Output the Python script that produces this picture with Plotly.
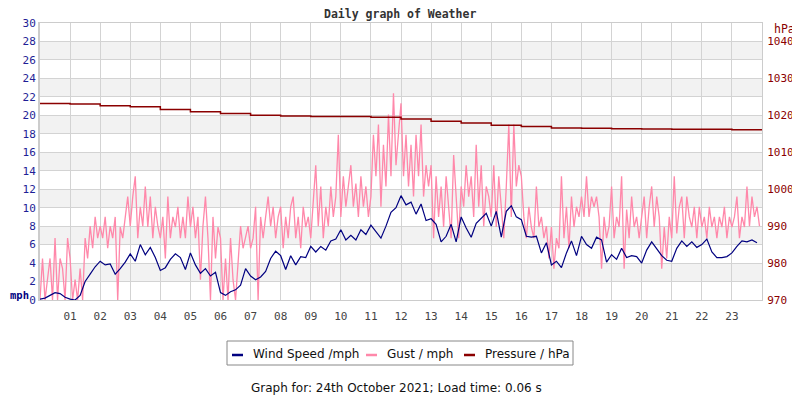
import numpy as np
import plotly.graph_objects as go

# wind speed, mph, every 10 minutes from 00:00
wind_speed = [
    0.1, 0.2, 0.5, 0.8, 0.7, 0.3,
    0.1, 0.0, 0.5, 2.0, 2.8, 3.6,
    4.2, 3.8, 3.9, 2.8, 3.4, 4.1,
    5.0, 4.2, 6.0, 4.9, 5.7, 4.6,
    3.2, 3.5, 4.4, 5.0, 4.6, 3.3,
    5.1, 3.8, 2.9, 3.4, 2.6, 3.0,
    0.8, 0.5, 0.9, 1.1, 1.6, 3.4,
    2.6, 2.2, 2.5, 3.1, 4.5, 5.3,
    4.8, 3.3, 4.8, 3.8, 4.7, 4.6,
    5.8, 5.2, 5.8, 5.4, 6.4, 6.6,
    7.6, 6.5, 7.0, 6.5, 7.6, 7.1,
    8.1, 7.4, 6.7, 8.0, 9.5, 10.0,
    11.3, 10.3, 10.6, 9.3, 10.4, 8.6,
    8.8, 8.2, 6.3, 6.9, 8.2, 6.3,
    9.0, 7.8, 6.8, 8.3, 8.8, 9.4,
    8.0, 9.6, 6.8, 9.6, 10.2, 9.0,
    8.7, 6.9, 6.8, 6.9, 5.1, 6.2,
    3.8, 4.2, 3.5, 5.1, 6.4, 4.8,
    6.9, 6.0, 5.6, 6.8, 6.5, 4.1,
    4.9, 4.4, 5.6, 4.6, 4.8, 4.7,
    4.0, 5.4, 6.3, 5.6, 4.8, 4.3,
    4.2, 5.6, 6.4, 5.8, 6.3, 5.7,
    6.0, 6.6, 5.2, 4.6, 4.6, 4.7,
    5.1, 5.8, 6.4, 6.3, 6.5, 6.2,
]

# gust, mph, every 5 minutes from 00:00
gust = [
    0, 4.5, 0, 2.2, 4.5, 0, 6.7, 0, 4.5, 3.4, 0, 6.7,
    4.5, 0, 2.2, 0, 3.4, 0, 6.7, 4.5, 8.0, 5.6, 9.0, 6.7,
    8.0, 6.7, 9.0, 5.6, 8.0, 6.7, 9.0, 0, 7.9, 6.7, 9.0, 11.2,
    8.0, 11.2, 13.4, 6.7, 10.1, 8.0, 12.3, 7.9, 11.2, 6.7, 10.1, 8.0,
    6.7, 9.0, 4.5, 11.2, 6.7, 9.0, 7.9, 10.1, 6.7, 9.0, 6.7, 11.2,
    7.9, 10.1, 6.7, 9.0, 2.2, 8.0, 11.2, 6.7, 0, 9.0, 4.5, 7.9,
    6.7, 0, 4.5, 0, 6.7, 2.2, 0, 4.5, 8.0, 5.6, 6.7, 8.0,
    5.6, 6.7, 10.1, 0, 9.0, 6.7, 9.0, 11.2, 8.0, 10.1, 6.7, 9.0,
    10.1, 5.6, 9.0, 6.7, 10.1, 11.2, 6.7, 9.0, 5.6, 10.1, 7.9, 9.0,
    6.7, 11.2, 14.6, 8.0, 12.3, 6.7, 10.1, 8.0, 12.3, 9.0, 11.2, 17.9,
    9.0, 13.4, 10.1, 12.3, 14.6, 10.1, 12.6, 9.0, 13.4, 10.1, 12.3, 9.0,
    11.2, 17.9, 13.4, 19.0, 10.1, 16.8, 12.3, 20.1, 13.4, 22.4, 14.6, 18.0,
    21.3, 13.4, 17.9, 12.3, 16.8, 11.2, 17.9, 13.4, 19.0, 11.2, 14.6, 12.3,
    14.6, 6.7, 13.4, 9.0, 12.3, 7.9, 13.4, 10.1, 6.7, 15.7, 11.2, 6.7,
    12.3, 10.1, 14.6, 11.2, 13.4, 9.0, 16.8, 10.1, 14.6, 8.0, 12.3, 11.2,
    9.0, 14.6, 7.9, 13.4, 10.1, 6.7, 12.3, 19.0, 9.0, 19.0, 12.3, 14.6,
    13.4, 9.0, 6.7, 10.1, 7.9, 6.7, 12.3, 7.9, 9.0, 6.7, 8.0, 4.5,
    7.9, 3.4, 6.7, 5.6, 13.4, 6.7, 10.1, 5.6, 11.2, 7.9, 10.1, 9.0,
    11.2, 9.0, 13.4, 9.0, 11.2, 10.1, 11.2, 9.0, 3.4, 9.0, 6.7, 8.0,
    12.3, 6.7, 9.0, 7.9, 13.4, 3.4, 9.8, 6.7, 11.2, 7.9, 9.0, 6.7,
    9.0, 11.2, 6.7, 10.1, 12.3, 7.9, 11.2, 9.0, 3.4, 7.9, 4.5, 9.0,
    6.7, 13.4, 7.2, 10.1, 11.2, 6.7, 11.2, 9.0, 7.9, 10.1, 6.7, 10.1,
    7.9, 9.0, 6.7, 10.1, 7.9, 9.0, 6.7, 9.0, 7.9, 10.1, 6.7, 9.0,
    7.9, 9.0, 11.2, 6.7, 9.0, 7.9, 12.3, 8.0, 11.2, 9.0, 10.1, 8.0,
]

# pressure, hPa, hourly 00:00 .. 24:00
pressure = [
    1023.2, 1023.1, 1022.6, 1022.3, 1021.6, 1021.0, 1020.5, 1020.0,
    1019.8, 1019.7, 1019.7, 1019.5, 1019.0, 1018.4, 1017.9, 1017.3,
    1017.0, 1016.6, 1016.5, 1016.4, 1016.3, 1016.2, 1016.2, 1016.1, 1016.1,
]

hour_ticks = list(range(1, 24))
hour_labels = [f'{h:02d}' for h in hour_ticks]

t_wind = np.arange(len(wind_speed)) / 6
t_gust = np.arange(len(gust)) / 12
t_press = np.arange(len(pressure))

NAVY = '#000080'
PINK = '#ff88aa'
RED = '#8b0000'
MONO = 'DejaVu Sans Mono'
SANS = 'DejaVu Sans'

# the page body has an 8px margin, so the figure is drawn 8px in from the corner
OFF = 8
W, H = 800 - OFF, 400 - OFF
# plot area in page pixels
L, R, T, B = 40, 762, 23, 300

fig = go.Figure()
fig.add_trace(go.Scatter(x=t_gust, y=gust, mode='lines',
                         line=dict(color=PINK, width=1.3), showlegend=False))
fig.add_trace(go.Scatter(x=t_wind, y=wind_speed, mode='lines',
                         line=dict(color=NAVY, width=1.2), showlegend=False))
fig.add_trace(go.Scatter(x=t_press, y=pressure, mode='lines', yaxis='y2',
                         line=dict(color=RED, width=1.5, shape='hv'), showlegend=False))

# alternating bands
shapes = []
for lo in range(2, 30, 4):
    shapes.append(dict(type='rect', xref='paper', yref='y', x0=0, x1=1, y0=lo, y1=lo + 2,
                       fillcolor='#f2f2f2', line=dict(width=0), layer='below'))

# page pixel -> paper (paper is the plot area)
px = lambda v: (v - L) / (R - L)
py = lambda v: (B - v) / (B - T)

# hand made legend
shapes.append(dict(type='rect', xref='paper', yref='paper', x0=px(227), x1=px(573),
                   y0=py(365), y1=py(341), line=dict(color='#888888', width=1)))
legend_items = [('Wind Speed /mph', NAVY, 232), ('Gust / mph', PINK, 366), ('Pressure / hPa', RED, 464)]
annotations = []
for name, col, x0 in legend_items:
    shapes.append(dict(type='line', xref='paper', yref='paper', x0=px(x0), x1=px(x0 + 11),
                       y0=py(355), y1=py(355), line=dict(color=col, width=2.5)))
    annotations.append(dict(text=name, xref='paper', yref='paper', x=px(x0 + 19), y=py(354),
                            xanchor='left', yanchor='middle', showarrow=False,
                            font=dict(family=SANS, size=12, color='#111111')))

annotations += [
    dict(text='<b>Daily graph of Weather</b>', xref='paper', yref='paper', x=px(400), y=py(14),
         xanchor='center', yanchor='middle', showarrow=False,
         font=dict(family=MONO, size=11.5, color='#333333')),
    dict(text='<b>mph</b>', xref='paper', yref='paper', x=px(OFF), y=py(295),
         xanchor='left', yanchor='middle', showarrow=False,
         font=dict(family=MONO, size=10.5, color=NAVY)),
    dict(text='hPa', xref='paper', yref='paper', x=px(772), y=py(29),
         xanchor='left', yanchor='middle', showarrow=False,
         font=dict(family=MONO, size=11.5, color=RED)),
    dict(text='Graph for: 24th October 2021; Load time: 0.06 s', xref='paper', yref='paper',
         x=px(396), y=py(388), xanchor='center', yanchor='middle', showarrow=False,
         font=dict(family=SANS, size=12, color='#111111')),
]

fig.update_layout(
    width=W, height=H,
    margin=dict(l=L - OFF, r=800 - R, t=T - OFF, b=400 - B, autoexpand=False),
    paper_bgcolor='white', plot_bgcolor='white',
    shapes=shapes, annotations=annotations,
    xaxis=dict(range=[0, 24], tickvals=hour_ticks, ticktext=hour_labels,
               showgrid=True, gridcolor='#d3d3d3', zeroline=False,
               showline=True, linecolor='#cccccc', mirror=True,
               ticks='', ticklabelstandoff=6, automargin=False,
               tickfont=dict(family=MONO, size=11, color='#444444')),
    yaxis=dict(range=[0, 30], dtick=2, showgrid=True, gridcolor='#d3d3d3', zeroline=False,
               showline=True, linecolor='#cccccc', linewidth=2,
               ticks='', ticklen=0, ticklabelstandoff=0, automargin=False,
               tickfont=dict(family=MONO, size=11, color='#1e1e96')),
    yaxis2=dict(range=[970, 1045], tickvals=list(range(970, 1041, 10)), overlaying='y',
                side='right', showgrid=False, zeroline=False,
                showline=True, linecolor='#cccccc', automargin=False,
                ticks='', ticklabelstandoff=2,
                tickfont=dict(family=MONO, size=11, color=RED)),
)

fig.write_html("out.html")
